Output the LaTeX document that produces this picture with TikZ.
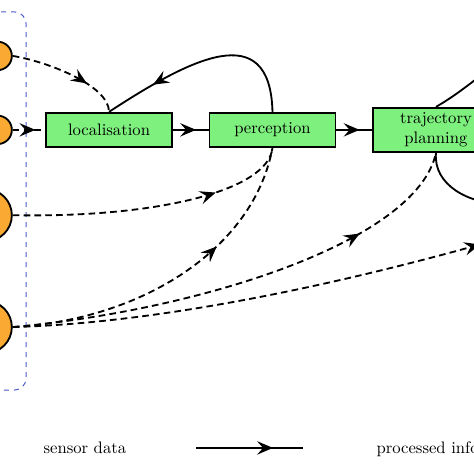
\documentclass[tikz,border=0pt]{standalone}
\usepackage{amsmath, amssymb}
\usepackage{tikz}
\usetikzlibrary{calc,shapes,arrows.meta,positioning,decorations.markings}

\definecolor{boxgreen}{RGB}{125,240,125}
\definecolor{sensororange}{RGB}{250,170,50}
\definecolor{groupblue}{RGB}{75,90,200}

\tikzset{
    block/.style={draw, line width=1.1pt, fill=boxgreen, minimum width=2.66cm, minimum height=0.72cm, align=center, inner sep=2pt},
    sensor/.style={draw, line width=1.1pt, circle, fill=sensororange, inner sep=0pt},
    sensorline/.style={line width=1.1pt, dash pattern=on 4pt off 2.5pt},
    infoline/.style={line width=1.1pt},
    midarrow/.style={postaction={decorate, decoration={markings,
        mark=at position #1 with {\arrow{Stealth[length=9.5pt,width=8pt,inset=3.5pt]}}}}}
}

\begin{document}
\begin{tikzpicture}
        \useasboundingbox (0,0) rectangle (10,10);
        \clip (0,0) rectangle (10,10);
        % sensors
        \draw[groupblue, semithick, dashed, rounded corners=0.25cm] (-1,1.77) rectangle (0.55,9.75);
        \node[sensor, minimum size=0.6cm] (sensorA) at (-0.05,8.82) {};
        \node[sensor, minimum size=0.6cm] (sensorB) at (-0.05,7.26) {};
        \node[sensor, minimum size=1.1cm] (sensorC) at (-0.30,5.46) {};
        \node[sensor, minimum size=1.1cm] (sensorD) at (-0.30,3.10) {};
        % processing chain
        \node[block] (loc) at (2.30,7.26) {localisation};
        \node[block, right=0.75cm of loc] (perc) {perception};
        \node[block, right=0.75cm of perc, minimum height=0.93cm] (traj) {trajectory\\planning};
        \coordinate (ctlA) at (11.2,9.0);
        \coordinate (ctlB) at (10.6,5.7);
        \coordinate (ctlC) at (11.2,5.15);
        % processed information
        \draw[infoline, midarrow=0.65] (loc) -- (perc);
        \draw[infoline, midarrow=0.65] (perc) -- (traj);
        \draw[infoline, midarrow=0.76] (perc.north) .. controls (5.70,9.65) and (4.00,8.75) .. (loc.north);
        \draw[infoline] (traj.north) to[out=30, in=200] (ctlA);
        \draw[infoline] (traj.south) to[out=-95, in=180] (ctlB);
        % sensor data
        \draw[sensorline, midarrow=0.68] (sensorA.east) .. controls (1.0,8.7) and (2.3,8.2) .. (loc.north);
        \draw[sensorline, midarrow=0.7] (sensorB) -- (loc);
        \draw[sensorline, midarrow=0.73] (sensorC.east) .. controls (3.2,5.4) and (5.65,5.95) .. (perc.south);
        \draw[sensorline, midarrow=0.66] (sensorD.east) .. controls (3.0,3.25) and (5.35,4.75) .. (perc.south);
        \draw[sensorline, midarrow=0.76] (sensorD.east) .. controls (4.2,3.45) and (8.8,4.9) .. (traj.south);
        \draw[sensorline, midarrow=0.9] (sensorD.east) .. controls (4.0,3.2) and (8.5,4.35) .. (ctlC);
        % legend
        \node[anchor=base] (sensorlbl) at (1.79,0.43) {sensor data};
        \coordinate (lgA) at (4.14,0.55);
        \coordinate (lgB) at (6.39,0.55);
        \draw[infoline, midarrow=0.72] (lgA) -- (lgB);
        \node[anchor=base west] (infolbl) at (7.82,0.43) {processed information};
\end{tikzpicture}
\end{document}
